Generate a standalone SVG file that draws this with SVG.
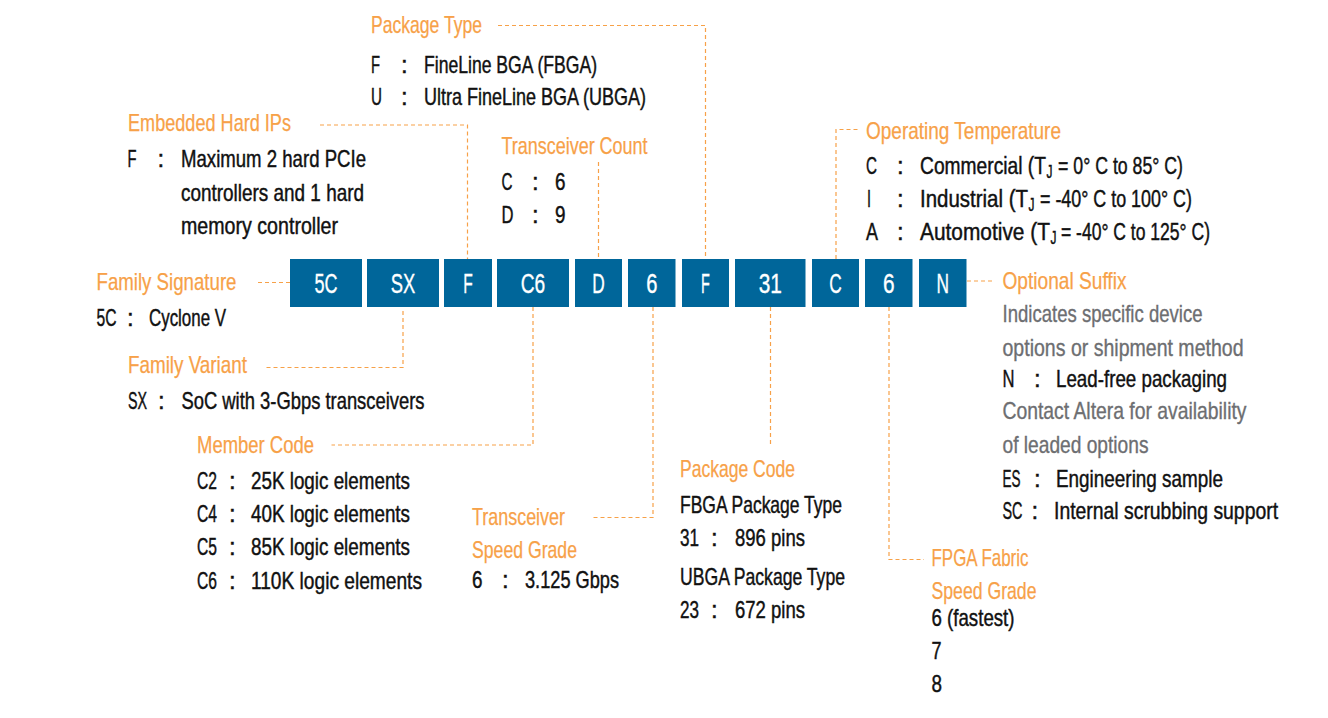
<svg xmlns="http://www.w3.org/2000/svg" width="1328" height="718" viewBox="0 0 1328 718">
<style>
text{font-family:"Liberation Sans Narrow","Liberation Sans",Arial,sans-serif;font-size:24px}
.h{fill:#F7A148;stroke:#F7A148;stroke-width:0.25}
.t{fill:#111;stroke:#111;stroke-width:0.45}
.g{fill:#6D6E71;stroke:#6D6E71;stroke-width:0.35}
.s{font-size:18px}
.bx{fill:#00669A}
.bt{fill:#fff;stroke:#fff;stroke-width:0.35;font-size:27px;text-anchor:middle}
.c{fill:none;stroke:#F7A148;stroke-width:1.2;stroke-dasharray:4 3}
</style>
<rect width="1328" height="718" fill="#fff"/>
<g id="connectors">
<path class="c" d="M258 282.5H290"/>
<path class="c" d="M403 311V367.5H265"/>
<path class="c" d="M320 125H467.5V259"/>
<path class="c" d="M533 307V445H331.5"/>
<path class="c" d="M598.5 162V259"/>
<path class="c" d="M498 25.5H705.5V259"/>
<path class="c" d="M653 307V517.5H591"/>
<path class="c" d="M770.5 307V447"/>
<path class="c" d="M836 259V129.5H860"/>
<path class="c" d="M889 307V559.5H924"/>
<path class="c" d="M967 281H994"/>
</g>
<g id="code">
<g id="box-5C"><rect class="bx" x="290" y="259" width="72" height="48"/><text class="bt" x="326" y="292.5" textLength="23" lengthAdjust="spacingAndGlyphs">5C</text></g>
<g id="box-SX"><rect class="bx" x="367" y="259" width="72" height="48"/><text class="bt" x="403" y="292.5" textLength="24.5" lengthAdjust="spacingAndGlyphs">SX</text></g>
<g id="box-F1"><rect class="bx" x="444" y="259" width="48" height="48"/><text class="bt" x="468" y="292.5" textLength="9.5" lengthAdjust="spacingAndGlyphs">F</text></g>
<g id="box-C6"><rect class="bx" x="497" y="259" width="72" height="48"/><text class="bt" x="533" y="292.5" textLength="24.5" lengthAdjust="spacingAndGlyphs">C6</text></g>
<g id="box-D"><rect class="bx" x="575" y="259" width="47" height="48"/><text class="bt" x="598.5" y="292.5" textLength="12.5" lengthAdjust="spacingAndGlyphs">D</text></g>
<g id="box-6a"><rect class="bx" x="628" y="259" width="47.5" height="48"/><text class="bt" x="651.75" y="292.5" textLength="11.2" lengthAdjust="spacingAndGlyphs">6</text></g>
<g id="box-F2"><rect class="bx" x="682" y="259" width="47" height="48"/><text class="bt" x="705.5" y="292.5" textLength="8.8" lengthAdjust="spacingAndGlyphs">F</text></g>
<g id="box-31"><rect class="bx" x="735" y="259" width="70.5" height="48"/><text class="bt" x="770.25" y="292.5" textLength="23.2" lengthAdjust="spacingAndGlyphs">31</text></g>
<g id="box-C"><rect class="bx" x="812" y="259" width="47" height="48"/><text class="bt" x="835.5" y="292.5" textLength="12.5" lengthAdjust="spacingAndGlyphs">C</text></g>
<g id="box-6b"><rect class="bx" x="865" y="259" width="47.5" height="48"/><text class="bt" x="888.75" y="292.5" textLength="11.6" lengthAdjust="spacingAndGlyphs">6</text></g>
<g id="box-N"><rect class="bx" x="919" y="259" width="47.5" height="48"/><text class="bt" x="942.75" y="292.5" textLength="12.5" lengthAdjust="spacingAndGlyphs">N</text></g>
</g>
<g id="package-type">
<text class="h" x="371" y="33" textLength="111" lengthAdjust="spacingAndGlyphs">Package Type</text>
<text class="t" x="371" y="72.5" textLength="9" lengthAdjust="spacingAndGlyphs">F</text>
<text class="t" x="401" y="72.5">:</text>
<text class="t" x="424" y="72.5" textLength="173" lengthAdjust="spacingAndGlyphs">FineLine BGA (FBGA)</text>
<text class="t" x="371" y="105" textLength="11" lengthAdjust="spacingAndGlyphs">U</text>
<text class="t" x="401" y="105">:</text>
<text class="t" x="424" y="105" textLength="222" lengthAdjust="spacingAndGlyphs">Ultra FineLine BGA (UBGA)</text>
</g>
<g id="embedded-hard-ips">
<text class="h" x="128" y="131" textLength="163" lengthAdjust="spacingAndGlyphs">Embedded Hard IPs</text>
<text class="t" x="127.5" y="167" textLength="9" lengthAdjust="spacingAndGlyphs">F</text>
<text class="t" x="157.5" y="167">:</text>
<text class="t" x="181" y="167" textLength="185" lengthAdjust="spacingAndGlyphs">Maximum 2 hard PCIe</text>
<text class="t" x="181" y="200.5" textLength="183" lengthAdjust="spacingAndGlyphs">controllers and 1 hard</text>
<text class="t" x="181" y="234" textLength="157" lengthAdjust="spacingAndGlyphs">memory controller</text>
</g>
<g id="transceiver-count">
<text class="h" x="501.5" y="154" textLength="146" lengthAdjust="spacingAndGlyphs">Transceiver Count</text>
<text class="t" x="501.5" y="190" textLength="11" lengthAdjust="spacingAndGlyphs">C</text>
<text class="t" x="532" y="190">:</text>
<text class="t" x="555" y="190" textLength="10.5" lengthAdjust="spacingAndGlyphs">6</text>
<text class="t" x="501.5" y="223" textLength="12" lengthAdjust="spacingAndGlyphs">D</text>
<text class="t" x="532" y="223">:</text>
<text class="t" x="555" y="223" textLength="10.5" lengthAdjust="spacingAndGlyphs">9</text>
</g>
<g id="operating-temperature">
<text class="h" x="866" y="139" textLength="195" lengthAdjust="spacingAndGlyphs">Operating Temperature</text>
<text class="t" x="866" y="173.5" textLength="11" lengthAdjust="spacingAndGlyphs">C</text>
<text class="t" x="897" y="173.5">:</text>
<g transform="translate(920 173.5) scale(0.72 1)">
<text class="t" x="0" y="0" textLength="175" lengthAdjust="spacingAndGlyphs">Commercial (T</text>
<text class="t s" x="175.7" y="4" textLength="8.3" lengthAdjust="spacingAndGlyphs">J</text>
<text class="t" x="191.7" y="0" textLength="173.6" lengthAdjust="spacingAndGlyphs">= 0° C to 85° C)</text>
</g>
<text class="t" x="867" y="207" textLength="4" lengthAdjust="spacingAndGlyphs">I</text>
<text class="t" x="897" y="207">:</text>
<g transform="translate(920 207) scale(0.72 1)">
<text class="t" x="0" y="0" textLength="150" lengthAdjust="spacingAndGlyphs">Industrial (T</text>
<text class="t s" x="150.7" y="4" textLength="8.3" lengthAdjust="spacingAndGlyphs">J</text>
<text class="t" x="166.7" y="0" textLength="211" lengthAdjust="spacingAndGlyphs">= -40° C to 100° C)</text>
</g>
<text class="t" x="866" y="240" textLength="12" lengthAdjust="spacingAndGlyphs">A</text>
<text class="t" x="897" y="240">:</text>
<g transform="translate(920 240) scale(0.72 1)">
<text class="t" x="0" y="0" textLength="180.5" lengthAdjust="spacingAndGlyphs">Automotive (T</text>
<text class="t s" x="181.2" y="4" textLength="8.3" lengthAdjust="spacingAndGlyphs">J</text>
<text class="t" x="195.8" y="0" textLength="207" lengthAdjust="spacingAndGlyphs">= -40° C to 125° C)</text>
</g>
</g>
<g id="family-signature">
<text class="h" x="96.5" y="290" textLength="140" lengthAdjust="spacingAndGlyphs">Family Signature</text>
<text class="t" x="96.5" y="326" textLength="20" lengthAdjust="spacingAndGlyphs">5C</text>
<text class="t" x="127" y="326">:</text>
<text class="t" x="149" y="326" textLength="77" lengthAdjust="spacingAndGlyphs">Cyclone V</text>
</g>
<g id="family-variant">
<text class="h" x="128" y="373" textLength="119" lengthAdjust="spacingAndGlyphs">Family Variant</text>
<text class="t" x="128" y="408.5" textLength="19" lengthAdjust="spacingAndGlyphs">SX</text>
<text class="t" x="158" y="408.5">:</text>
<text class="t" x="181.5" y="408.5" textLength="243" lengthAdjust="spacingAndGlyphs">SoC with 3-Gbps transceivers</text>
</g>
<g id="member-code">
<text class="h" x="197" y="452.5" textLength="117" lengthAdjust="spacingAndGlyphs">Member Code</text>
<text class="t" x="197" y="488.5" textLength="20" lengthAdjust="spacingAndGlyphs">C2</text>
<text class="t" x="229" y="488.5">:</text>
<text class="t" x="251" y="488.5" textLength="159" lengthAdjust="spacingAndGlyphs">25K logic elements</text>
<text class="t" x="197" y="521.5" textLength="20" lengthAdjust="spacingAndGlyphs">C4</text>
<text class="t" x="229" y="521.5">:</text>
<text class="t" x="251" y="521.5" textLength="159" lengthAdjust="spacingAndGlyphs">40K logic elements</text>
<text class="t" x="197" y="555" textLength="20" lengthAdjust="spacingAndGlyphs">C5</text>
<text class="t" x="229" y="555">:</text>
<text class="t" x="251" y="555" textLength="159" lengthAdjust="spacingAndGlyphs">85K logic elements</text>
<text class="t" x="197" y="588.5" textLength="20" lengthAdjust="spacingAndGlyphs">C6</text>
<text class="t" x="229" y="588.5">:</text>
<text class="t" x="251" y="588.5" textLength="171" lengthAdjust="spacingAndGlyphs">110K logic elements</text>
</g>
<g id="transceiver-speed-grade">
<text class="h" x="472" y="525" textLength="93" lengthAdjust="spacingAndGlyphs">Transceiver</text>
<text class="h" x="472" y="558" textLength="105" lengthAdjust="spacingAndGlyphs">Speed Grade</text>
<text class="t" x="472" y="588" textLength="10.5" lengthAdjust="spacingAndGlyphs">6</text>
<text class="t" x="502" y="588">:</text>
<text class="t" x="525" y="588" textLength="94" lengthAdjust="spacingAndGlyphs">3.125 Gbps</text>
</g>
<g id="package-code">
<text class="h" x="680" y="477" textLength="115" lengthAdjust="spacingAndGlyphs">Package Code</text>
<text class="t" x="680" y="513" textLength="162" lengthAdjust="spacingAndGlyphs">FBGA Package Type</text>
<text class="t" x="680" y="546" textLength="19" lengthAdjust="spacingAndGlyphs">31</text>
<text class="t" x="711" y="546">:</text>
<text class="t" x="735" y="546" textLength="70" lengthAdjust="spacingAndGlyphs">896 pins</text>
<text class="t" x="680" y="585" textLength="165" lengthAdjust="spacingAndGlyphs">UBGA Package Type</text>
<text class="t" x="680" y="618" textLength="19" lengthAdjust="spacingAndGlyphs">23</text>
<text class="t" x="711" y="618">:</text>
<text class="t" x="735" y="618" textLength="70" lengthAdjust="spacingAndGlyphs">672 pins</text>
</g>
<g id="optional-suffix">
<text class="h" x="1002.5" y="289" textLength="124" lengthAdjust="spacingAndGlyphs">Optional Suffix</text>
<text class="g" x="1002.5" y="322" textLength="200" lengthAdjust="spacingAndGlyphs">Indicates specific device</text>
<text class="g" x="1002.5" y="355.5" textLength="241" lengthAdjust="spacingAndGlyphs">options or shipment method</text>
<text class="t" x="1002.5" y="387" textLength="12" lengthAdjust="spacingAndGlyphs">N</text>
<text class="t" x="1034" y="387">:</text>
<text class="t" x="1056" y="387" textLength="171" lengthAdjust="spacingAndGlyphs">Lead-free packaging</text>
<text class="g" x="1002.5" y="419" textLength="244" lengthAdjust="spacingAndGlyphs">Contact Altera for availability</text>
<text class="g" x="1002.5" y="452.5" textLength="146" lengthAdjust="spacingAndGlyphs">of leaded options</text>
<text class="t" x="1002.5" y="486.5" textLength="18" lengthAdjust="spacingAndGlyphs">ES</text>
<text class="t" x="1034" y="486.5">:</text>
<text class="t" x="1056" y="486.5" textLength="167" lengthAdjust="spacingAndGlyphs">Engineering sample</text>
<g transform="translate(1002.5 519) scale(0.7 1)">
<text class="t" x="0" y="0" textLength="28.6" lengthAdjust="spacingAndGlyphs">SC</text>
</g>
<text class="t" x="1031.5" y="519">:</text>
<g transform="translate(1054 519) scale(0.75 1)">
<text class="t" x="0" y="0" textLength="298.7" lengthAdjust="spacingAndGlyphs">Internal scrubbing support</text>
</g>
</g>
<g id="fpga-fabric-speed-grade">
<text class="h" x="931.5" y="566" textLength="97" lengthAdjust="spacingAndGlyphs">FPGA Fabric</text>
<text class="h" x="931.5" y="599" textLength="105" lengthAdjust="spacingAndGlyphs">Speed Grade</text>
<text class="t" x="931.5" y="626" textLength="83" lengthAdjust="spacingAndGlyphs">6 (fastest)</text>
<text class="t" x="931.5" y="659" textLength="10" lengthAdjust="spacingAndGlyphs">7</text>
<text class="t" x="931.5" y="692" textLength="10.5" lengthAdjust="spacingAndGlyphs">8</text>
</g>
</svg>
